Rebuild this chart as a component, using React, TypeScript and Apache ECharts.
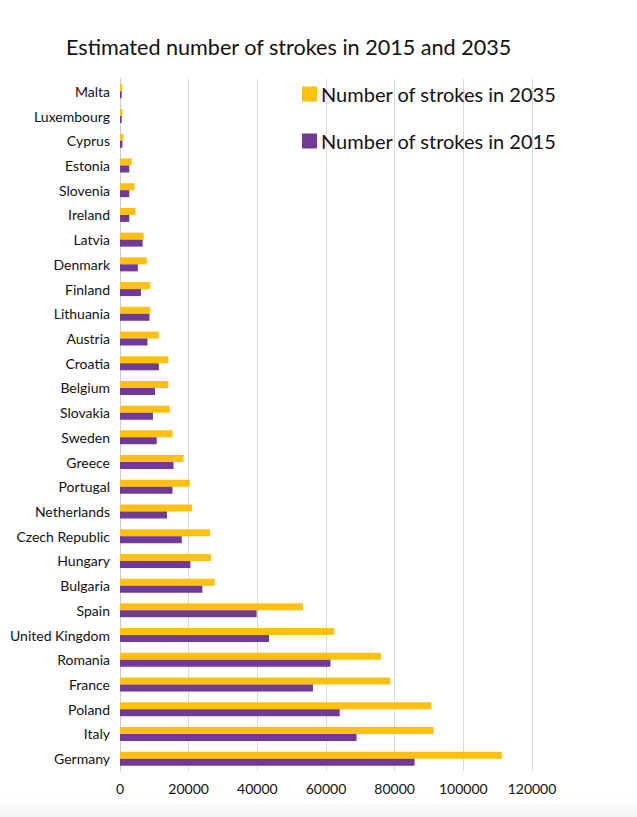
import React, { useEffect, useRef } from "react";
import * as echarts from "echarts";

const countries = [
  "Malta", "Luxembourg", "Cyprus", "Estonia", "Slovenia", "Ireland", "Latvia",
  "Denmark", "Finland", "Lithuania", "Austria", "Croatia", "Belgium", "Slovakia",
  "Sweden", "Greece", "Portugal", "Netherlands", "Czech Republic", "Hungary",
  "Bulgaria", "Spain", "United Kingdom", "Romania", "France", "Poland", "Italy", "Germany",
];

const strokes2035 = [
  700, 700, 1000, 3400, 4200, 4500, 6900,
  7800, 8800, 8800, 11300, 14100, 14100, 14500,
  15300, 18500, 20300, 21000, 26200, 26500,
  27600, 53300, 62400, 76000, 78700, 90700, 91300, 111200,
];

const strokes2015 = [
  500, 500, 700, 2700, 2700, 2700, 6600,
  5200, 6100, 8600, 8000, 11300, 10200, 9600,
  10700, 15600, 15300, 13700, 18000, 20500,
  24000, 39800, 43400, 61300, 56200, 64000, 68900, 85800,
];

const xTicks = { min: 0, max: 120000, interval: 20000 };

const FONT = "Lato, 'Open Sans', sans-serif";

export default function App() {
  const ref = useRef<HTMLDivElement>(null);
  useEffect(() => {
    if (!ref.current) return;
    const chart = echarts.init(ref.current, undefined, { renderer: "svg" });
    chart.setOption({
      animation: false,
      backgroundColor: "#ffffff",
      textStyle: { fontFamily: FONT },
      title: {
        text: "Estimated number of strokes in 2015 and 2035",
        left: 61,
        top: 31,
        textStyle: { fontFamily: FONT, fontSize: 21.6, fontWeight: "normal", color: "#111111" },
      },
      legend: {
        orient: "vertical",
        left: 297,
        top: 79,
        itemWidth: 15,
        itemHeight: 15,
        itemGap: 27,
        icon: "rect",
        data: ["Number of strokes in 2035", "Number of strokes in 2015"],
        textStyle: { fontFamily: FONT, fontSize: 20, color: "#111111", padding: [0, 0, 0, -1] },
      },
      graphic: [
        {
          type: "rect",
          left: 0,
          bottom: 0,
          shape: { width: 637, height: 22 },
          z: -1,
          style: {
            fill: new echarts.graphic.LinearGradient(0, 0, 0, 1, [
              { offset: 0, color: "#ffffff" },
              { offset: 1, color: "#f4f4f4" },
            ]),
          },
        },
      ],
      grid: { left: 120, right: 105, top: 79, bottom: 46, containLabel: false },
      xAxis: {
        type: "value",
        min: xTicks.min,
        max: xTicks.max,
        interval: xTicks.interval,
        axisLine: { show: false },
        axisTick: { show: false },
        splitLine: { show: true, lineStyle: { color: "#d9d9d9", width: 1 } },
        axisLabel: {
          fontFamily: FONT,
          fontSize: 14,
          color: "#111111",
          margin: 10,
          formatter: (v: number) => String(v),
        },
      },
      yAxis: {
        type: "category",
        inverse: true,
        data: countries,
        axisLine: { show: true, lineStyle: { color: "#cccccc", width: 1 } },
        axisTick: { show: false },
        axisLabel: { fontFamily: FONT, fontSize: 14, color: "#111111", margin: 10 },
      },
      series: [
        {
          name: "Number of strokes in 2035",
          type: "bar",
          data: strokes2035,
          barWidth: 7,
          barGap: "0%",
          itemStyle: { color: "#FFC010" },
        },
        {
          name: "Number of strokes in 2015",
          type: "bar",
          data: strokes2015,
          barWidth: 7,
          barGap: "0%",
          itemStyle: { color: "#713A96" },
        },
      ],
    });
    return () => chart.dispose();
  }, []);
  return (
    <div
      ref={ref}
      style={{ position: "fixed", left: 0, top: 0, width: 637, height: 817 }}
    />
  );
}
